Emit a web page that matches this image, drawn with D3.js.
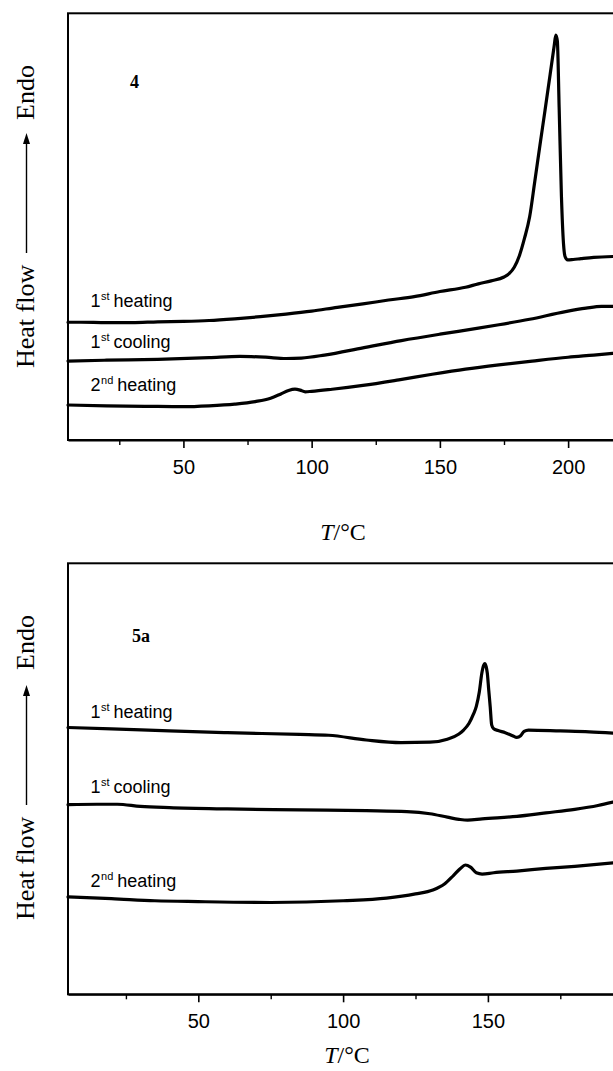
<!DOCTYPE html>
<html>
<head>
<meta charset="utf-8">
<script src="https://cdn.jsdelivr.net/npm/d3@7"></script>
<style>
  body { margin: 0; background: #ffffff; }
</style>
</head>
<body>
<div id="wrapper"></div>
<script>
// DSC traces, [T in °C, heat flow in arbitrary units (0-100 of the frame height)]
const heating1_4 = [[5,27.6],[10,27.6],[20,27.5],[30,27.5],[40,27.7],[50,27.8],[60,28.0],[70,28.4],[80,28.9],[90,29.5],[100,30.2],[110,31.1],[120,31.9],[130,32.8],[140,33.6],[150,34.8],[160,35.8],[165,36.6],[170,37.3],[175,38.2],[177,39.0],[179,40.5],[181,43.2],[183,47.3],[185,52.3],[187,60.6],[189,69.0],[191,77.3],[193,85.7],[194.6,92.5],[195.2,94.9],[195.8,93.5],[196.5,78],[197.4,57],[198.2,46],[198.8,43],[199.8,42.2],[202,42.3],[205,42.5],[210,42.8],[217.5,43.0]];
const cooling1_4 = [[5,18.5],[20,18.7],[40,18.9],[60,19.3],[72,19.6],[82,19.4],[90,19.1],[96,19.2],[105,19.9],[120,21.6],[135,23.3],[150,24.8],[165,26.2],[173,27.0],[185,28.3],[199,30.1],[207,30.9],[213,31.3],[217.5,31.3]];
const heating2_4 = [[5,8.2],[20,8.0],[35,7.9],[50,7.8],[60,8.0],[70,8.4],[78,9.0],[84,9.8],[88,10.8],[91,11.6],[93.5,11.9],[95.5,11.7],[97.5,11.3],[100,11.4],[108,11.9],[120,12.8],[134,14.1],[147,15.4],[160,16.6],[173,17.6],[186,18.5],[200,19.4],[210,19.9],[217.5,20.3]];

const heating1_5a = [[5,61.9],[20,61.6],[40,61.1],[60,60.7],[85,60.3],[95,60.1],[108,59.0],[120,58.4],[130,58.5],[136,59.2],[140,60.4],[141.6,61.3],[143.5,62.9],[145,65.0],[146,66.8],[147,70.0],[147.9,74.5],[148.5,76.3],[148.9,76.7],[149.4,76.0],[149.8,74.5],[150.3,70.5],[150.8,66.7],[151.3,62.5],[152,61.6],[153.5,61.2],[156,60.7],[158.5,60.0],[160,59.6],[161.3,60.0],[162.5,61.0],[164,61.3],[175,61.1],[185,60.9],[193.2,60.6]];
const cooling1_5a = [[5,44.0],[15,44.1],[22,44.1],[30,43.6],[40,43.3],[60,43.0],[85,42.8],[108,42.6],[122,42.4],[130,41.9],[136,41.1],[140,40.6],[143,40.4],[148,40.7],[160,41.3],[170,42.1],[180,42.9],[188,43.8],[193.2,44.6]];
const heating2_5a = [[5,22.6],[20,22.2],[35,21.7],[50,21.5],[75,21.3],[100,21.7],[115,22.3],[125,23.3],[131,24.2],[135,25.6],[138,27.5],[140.5,29.2],[142.2,30.0],[144,29.5],[146,28.2],[148,27.9],[152,28.2],[160,28.6],[170,29.2],[180,29.7],[193.2,30.5]];

const majorTicks4 = [50, 100, 150, 200];
const minorTicks4 = [25, 75, 125, 175];
const majorTicks5a = [50, 100, 150];
const minorTicks5a = [25, 75, 125, 175];

const seriesNames = [["1", "st", "heating"], ["1", "st", "cooling"], ["2", "nd", "heating"]];

let dimensions = { width: 613, height: 1071, left: 68 };

let wrapper = d3.select("#wrapper").append("svg")
  .attr("width", dimensions.width)
  .attr("height", dimensions.height);

const xAcc = d => d[0];
const yAcc = d => d[1];

function drawPanel(p) {
  let g = wrapper.append("g");

  let xScale = d3.scaleLinear()
      .domain(p.xDomain)
      .range([dimensions.left, dimensions.width]);
  let yScale = d3.scaleLinear()
      .domain([0, 100])
      .range([p.bottom, p.top]);

  // frame (right side runs off the page as in the scan)
  g.append("rect")
      .attr("x", dimensions.left)
      .attr("y", p.top)
      .attr("width", dimensions.width)
      .attr("height", p.bottom - p.top)
      .attr("fill", "none")
      .attr("stroke", "#000")
      .attr("stroke-width", 2);

  let majorAxis = d3.axisBottom(xScale).tickValues(p.major).tickSize(8).tickSizeOuter(0).tickPadding(12);
  let minorAxis = d3.axisBottom(xScale).tickValues(p.minor).tickSize(5).tickSizeOuter(0).tickFormat("");

  const ax = g.append("g").attr("transform", `translate(0, ${p.bottom})`).call(majorAxis);
  ax.select(".domain").attr("stroke-width", 2);
  ax.selectAll(".tick line").attr("stroke-width", 1.6);
  ax.selectAll(".tick text")
      .attr("fill", "#000")
      .style("font-family", "'Liberation Sans', Arial, sans-serif")
      .style("font-size", "20px");
  const mx = g.append("g").attr("transform", `translate(0, ${p.bottom})`).call(minorAxis);
  mx.select(".domain").remove();
  mx.selectAll(".tick line").attr("stroke-width", 1.4);

  const line = d3.line()
      .x(d => xScale(xAcc(d)))
      .y(d => yScale(yAcc(d)))
      .curve(d3.curveMonotoneX);

  g.selectAll("path.trace")
      .data(p.series)
      .enter()
      .append("path")
      .attr("class", "trace")
      .attr("d", line)
      .attr("fill", "none")
      .attr("stroke", "#000")
      .attr("stroke-width", 3.2)
      .attr("stroke-linejoin", "round")
      .attr("stroke-linecap", "round");

  // curve labels
  seriesNames.forEach((n, i) => {
    const t = g.append("text")
        .attr("x", 90.5)
        .attr("y", p.labelY[i])
        .style("font-family", "'Liberation Sans', Arial, sans-serif")
        .style("font-size", "18px");
    t.append("tspan").text(n[0]);
    t.append("tspan").attr("dy", -7).attr("dx", 0.5).style("font-size", "11px").text(n[1]);
    t.append("tspan").attr("dy", 7).attr("dx", 4).text(n[2]);
  });

  // compound label
  g.append("text")
      .attr("x", p.tag[0])
      .attr("y", p.tag[1])
      .style("font-family", "'Liberation Serif', 'Times New Roman', serif")
      .style("font-weight", "bold")
      .style("font-size", "18px")
      .text(p.name);

  // y label: Heat flow ----> Endo
  const yl = g.append("g").attr("transform", "translate(34, 0) rotate(-90)");
  yl.append("text")
      .attr("x", -p.heatStart)
      .attr("y", 0)
      .style("font-family", "'Liberation Serif', 'Times New Roman', serif")
      .style("font-size", "26px")
      .text("Heat flow");
  yl.append("text")
      .attr("x", -p.endoStart)
      .attr("y", 0)
      .style("font-family", "'Liberation Serif', 'Times New Roman', serif")
      .style("font-size", "26px")
      .text("Endo");
  yl.append("line")
      .attr("x1", -p.arrow[0])
      .attr("x2", -p.arrow[1] - 8)
      .attr("y1", -7.5)
      .attr("y2", -7.5)
      .attr("stroke", "#000")
      .attr("stroke-width", 1.4);
  yl.append("path")
      .attr("d", `M${-p.arrow[1]},-7.5 L${-p.arrow[1] - 11},-11 L${-p.arrow[1] - 11},-4 Z`)
      .attr("fill", "#000");

  // x label
  const xl = g.append("text")
      .attr("x", p.xLabel[0])
      .attr("y", p.xLabel[1])
      .attr("text-anchor", "middle")
      .style("font-family", "'Liberation Serif', 'Times New Roman', serif")
      .style("font-size", "24px");
  xl.append("tspan").style("font-style", "italic").text("T");
  xl.append("tspan").text("/°C");
}

drawPanel({
  name: "4", xDomain: [5, 217.5], top: 13.3, bottom: 440,
  major: majorTicks4, minor: minorTicks4,
  series: [heating1_4, cooling1_4, heating2_4],
  labelY: [306.7, 348.3, 391],
  tag: [130, 88],
  heatStart: 368, endoStart: 120, arrow: [253, 133],
  xLabel: [343, 540]
});

drawPanel({
  name: "5a", xDomain: [5, 193.2], top: 563.3, bottom: 994.3,
  major: majorTicks5a, minor: minorTicks5a,
  series: [heating1_5a, cooling1_5a, heating2_5a],
  labelY: [718.3, 793.3, 886.7],
  tag: [132, 642],
  heatStart: 920, endoStart: 670, arrow: [805, 685],
  xLabel: [347, 1063]
});
</script>
</body>
</html>
